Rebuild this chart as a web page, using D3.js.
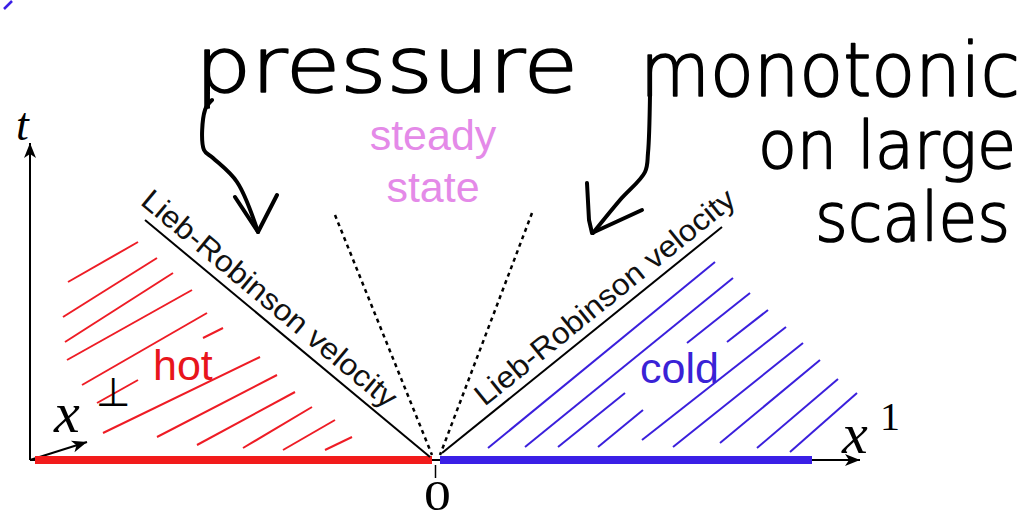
<!DOCTYPE html>
<html><head><meta charset="utf-8">
<script src="https://cdn.jsdelivr.net/npm/d3@7"></script>
<style>html,body{margin:0;padding:0;background:#fff;overflow:hidden}</style>
</head><body><svg id="c" width="1032" height="521"></svg>
<script>
// ---- data (diagram units: x = position, t = time; origin at 0) ----
const xDomain = [-4.05, 4.25];
const tDomain = [0, 3.3];
const xTicks = [0];
const tickLabels = ["0"];
const hotSegment = [-4.00, -0.03];
const coldSegment = [0.05, 3.77];
const lightConeLeft = [[-2.90, 2.40], [-0.05, 0.03]];
const lightConeRight = [[0.07, 0.07], [2.87, 2.33]];
const steadyEdgeLeft = [[-1.00, 2.45], [-0.03, 0.05]];
const steadyEdgeRight = [[0.97, 2.47], [0.05, 0.05]];
const hotHatch = [
  [-3.67, 1.78, -2.97, 2.18], [-3.72, 1.43, -2.78, 2.02], [-3.70, 1.18, -2.62, 1.87],
  [-3.68, 1.00, -2.43, 1.70], [-3.53, 0.75, -2.28, 1.47], [-2.32, 1.22, -2.12, 1.32],
  [-3.38, 0.57, -2.97, 0.80], [-3.32, 0.27, -1.75, 1.03], [-2.78, 0.23, -1.58, 0.85],
  [-2.38, 0.15, -1.40, 0.68], [-1.92, 0.12, -1.23, 0.53], [-1.52, 0.10, -1.00, 0.40],
  [-1.10, 0.10, -0.83, 0.23]
];
const coldHatch = [
  [0.53, 0.12, 2.80, 1.98], [0.90, 0.13, 2.98, 1.82], [1.23, 0.13, 1.90, 0.67],
  [2.52, 1.17, 3.15, 1.67], [1.63, 0.13, 2.08, 0.50], [2.92, 1.18, 3.33, 1.50],
  [2.07, 0.20, 3.51, 1.33], [2.38, 0.13, 3.68, 1.17], [2.85, 0.17, 3.85, 1.00],
  [3.22, 0.12, 4.03, 0.81], [3.55, 0.08, 4.22, 0.67]
];
const lrLabel = "Lieb-Robinson velocity";
const hotLabel = "hot";
const coldLabel = "cold";
const steadyLabel = ["steady", "state"];
const noteLines = ["pressure", "monotonic", "on large", "scales"];
const arrowLeftShaft = [[-2.23, 3.60], [-2.30, 3.50], [-2.31, 3.10], [-2.22, 3.02], [-1.98, 2.78], [-1.77, 2.28]];
const arrowLeftHead = [[-2.00, 2.63], [-1.77, 2.28], [-1.58, 2.65]];
const arrowRightShaft = [[2.15, 3.65], [2.13, 3.07], [2.10, 2.88], [1.85, 2.60], [1.58, 2.27]];
const arrowRightHead = [[1.52, 2.77], [1.54, 2.40], [1.57, 2.27], [2.07, 2.50]];

// ---- drawing ----
const svg = d3.select("#c");
const x = d3.scaleLinear().domain(xDomain).range([30, 860]);
const y = d3.scaleLinear().domain(tDomain).range([460, 130]);
const line = d3.line().x(d => x(d[0])).y(d => y(d[1]));

const defs = svg.append("defs");
defs.append("marker").attr("id", "ah").attr("markerUnits", "userSpaceOnUse")
  .attr("viewBox", "-16 -8 18 16").attr("refX", 0).attr("refY", 0)
  .attr("markerWidth", 18).attr("markerHeight", 16).attr("orient", "auto")
  .append("path").attr("d", "M0,0L-15,-6L-11,0L-15,6Z").attr("fill", "#000");

// hatching
svg.append("g").selectAll("line").data(hotHatch).join("line")
  .attr("x1", d => x(d[0])).attr("y1", d => y(d[1])).attr("x2", d => x(d[2])).attr("y2", d => y(d[3]))
  .attr("stroke", "#ee1c25").attr("stroke-width", 2);
svg.append("g").selectAll("line").data(coldHatch).join("line")
  .attr("x1", d => x(d[0])).attr("y1", d => y(d[1])).attr("x2", d => x(d[2])).attr("y2", d => y(d[3]))
  .attr("stroke", "#3a1fdc").attr("stroke-width", 2);

// axes
svg.append("path").attr("d", line([[xDomain[0], 0], [xDomain[1], 0]]))
  .attr("stroke", "#000").attr("stroke-width", 2).attr("marker-end", "url(#ah)");
svg.append("path").attr("d", line([[xDomain[0], 0], [xDomain[0], 3.17]]))
  .attr("stroke", "#000").attr("stroke-width", 2).attr("marker-end", "url(#ah)");
svg.append("path").attr("d", line([[xDomain[0], 0], [-3.48, 0.18]]))
  .attr("stroke", "#000").attr("stroke-width", 2).attr("marker-end", "url(#ah)");

// hot / cold initial segments
svg.append("path").attr("d", line([[hotSegment[0], 0], [hotSegment[1], 0]]))
  .attr("stroke", "#f21b1b").attr("stroke-width", 8);
svg.append("path").attr("d", line([[coldSegment[0], 0], [coldSegment[1], 0]]))
  .attr("stroke", "#3a1fe6").attr("stroke-width", 8);

// tick at 0
const ax = svg.append("g").attr("transform", `translate(0,${y(0)})`)
  .call(d3.axisBottom(x).tickValues(xTicks).tickSize(18).tickFormat((d, i) => tickLabels[i]));
ax.select(".domain").remove();
ax.selectAll(".tick line").attr("stroke", "#000").attr("stroke-width", 1.5).attr("y1", 5);
ax.selectAll(".tick text").attr("font-family", "Liberation Serif, serif").attr("font-size", 43)
  .attr("fill", "#000").attr("y", 50).attr("dy", null).attr("transform", "translate(2,0) scale(1.25,1)");

// light cone and steady-state edges
[lightConeLeft, lightConeRight].forEach(s =>
  svg.append("path").attr("d", line(s)).attr("stroke", "#000").attr("stroke-width", 2).attr("fill", "none"));
[steadyEdgeLeft, steadyEdgeRight].forEach(s =>
  svg.append("path").attr("d", line(s)).attr("stroke", "#000").attr("stroke-width", 2.5)
    .attr("stroke-dasharray", "4,4").attr("fill", "none"));

// Lieb-Robinson labels
function lrText(seg, along, off, len) {
  const p0 = [x(seg[0][0]), y(seg[0][1])], p1 = [x(seg[1][0]), y(seg[1][1])];
  let dx = p1[0] - p0[0], dy = p1[1] - p0[1];
  const L = Math.hypot(dx, dy); dx /= L; dy /= L;
  if (dx < 0) { dx = -dx; dy = -dy; }
  const nx = dy, ny = -dx;
  const start = seg[0][0] < seg[1][0] ? p0 : p1;
  const sx = start[0] + along * dx + off * nx, sy = start[1] + along * dy + off * ny;
  const ang = Math.atan2(dy, dx) * 180 / Math.PI;
  svg.append("text").attr("transform", `translate(${sx},${sy}) rotate(${ang})`)
    .attr("font-family", "Liberation Sans, Arial, sans-serif").attr("font-size", 30)
    .attr("textLength", len).attr("lengthAdjust", "spacingAndGlyphs")
    .attr("fill", "#111").text(lrLabel);
}
lrText(lightConeLeft, -15, 9, 322);
lrText(lightConeRight, 62, 9, 325);

// region labels
svg.append("text").attr("x", x(-2.82)).attr("y", y(0.80)).attr("font-family", "Liberation Sans, Arial, sans-serif")
  .attr("font-size", 43).attr("fill", "#e8151b").text(hotLabel);
svg.append("text").attr("x", x(2.05)).attr("y", y(0.77)).attr("font-family", "Liberation Sans, Arial, sans-serif")
  .attr("font-size", 43).attr("fill", "#3a22d6").text(coldLabel);
svg.append("g").selectAll("text").data(steadyLabel).join("text")
  .attr("x", x(-0.02)).attr("y", (d, i) => y(3.10) + i * 52).attr("text-anchor", "middle")
  .attr("font-family", "Liberation Sans, Arial, sans-serif").attr("font-size", 43)
  .attr("fill", "#e48ae8").text(d => d);

// axis labels
const serif = "Liberation Serif, DejaVu Serif, serif";
svg.append("text").attr("x", 16).attr("y", 140).attr("font-family", serif).attr("font-style", "italic")
  .attr("font-size", 46).text("t");
svg.append("text").attr("x", 54).attr("y", 432).attr("font-family", serif).attr("font-style", "italic")
  .attr("font-size", 58).text("x");
svg.append("text").attr("x", 96).attr("y", 406).attr("font-family", "DejaVu Sans, sans-serif")
  .attr("font-size", 40).text("\u22A5");
svg.append("text").attr("x", 842).attr("y", 453).attr("font-family", serif).attr("font-style", "italic")
  .attr("font-size", 58).text("x");
svg.append("text").attr("x", 880).attr("y", 430).attr("font-family", serif)
  .attr("font-size", 40).text("1");

// handwritten annotations
const hand = "DejaVu Sans, sans-serif";
const notePos = [[195, 92, 76, 383], [640, 96, 74, 380], [758, 168, 66, 258], [815, 241, 68, 195]];
svg.append("g").selectAll("text").data(noteLines).join("text")
  .attr("x", (d, i) => notePos[i][0]).attr("y", (d, i) => notePos[i][1])
  .attr("font-size", (d, i) => notePos[i][2]).attr("textLength", (d, i) => notePos[i][3])
  .attr("lengthAdjust", "spacingAndGlyphs")
  .attr("font-family", hand).attr("font-weight", 200).attr("fill", "#000")
  .attr("stroke", "#000").attr("stroke-width", 1.6).attr("stroke-linejoin", "round").text(d => d);
const curve = d3.line().x(d => x(d[0])).y(d => y(d[1])).curve(d3.curveCatmullRom);
[arrowLeftShaft, arrowLeftHead, arrowRightShaft, arrowRightHead].forEach((pts, i) =>
  svg.append("path").attr("d", (i % 2 ? line : curve)(pts)).attr("fill", "none")
    .attr("stroke", "#000").attr("stroke-width", 4).attr("stroke-linecap", "round").attr("stroke-linejoin", "round"));
// small blue mark in the corner
svg.append("path").attr("d", "M4,9L12,1").attr("stroke", "#3a1fe6").attr("stroke-width", 2.5);
</script></body></html>
